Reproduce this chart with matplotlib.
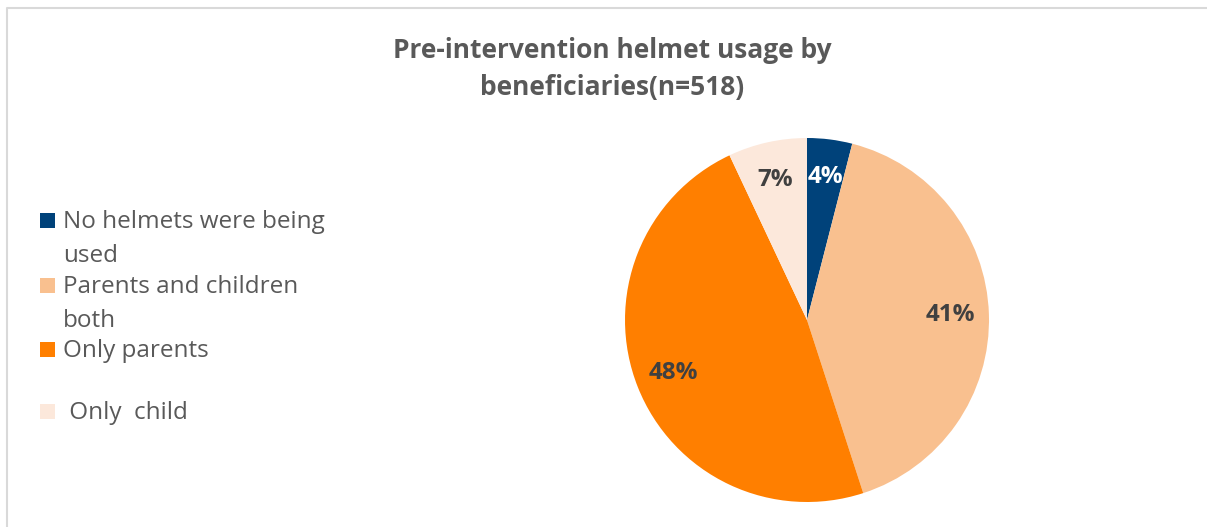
import matplotlib.pyplot as plt
from matplotlib.lines import Line2D
from matplotlib.patches import Rectangle

# data
categories = ["No helmets were being\nused", "Parents and children\nboth",
              "Only parents", " Only  child"]
shares = [4, 41, 48, 7]
colors = ["#00427A", "#F9C08F", "#FF7F00", "#FCE8DB"]
label_colors = ["white", "#404040", "#404040", "#404040"]

title = "Pre-intervention helmet usage by\nbeneficiaries(n=518)"

W, H = 1207, 527
fig = plt.figure(figsize=(W / 100, H / 100), dpi=100)
plt.rcParams["font.family"] = ["Open Sans", "DejaVu Sans"]

# light chart-area border (only top and left edges show)
fig.lines.append(Line2D([7 / W, 7 / W, 1.0], [0.0, 1 - 8 / H, 1 - 8 / H],
                        transform=fig.transFigure, color="#D9D9D9",
                        linewidth=1.5))

# pie
cx, cy, r = 807, 320, 182
ax = fig.add_axes([(cx - r) / W, (H - cy - r) / H, 2 * r / W, 2 * r / H])
wedges, texts, autotexts = ax.pie(shares, colors=colors, startangle=90,
                                  counterclock=False, autopct="%d%%",
                                  pctdistance=0.79, radius=1,
                                  wedgeprops=dict(linewidth=0))
for t, c in zip(autotexts, label_colors):
    t.set_color(c)
    t.set_fontsize(17.5)
    t.set_fontweight("bold")
ax.set_xlim(-1, 1)
ax.set_ylim(-1, 1)
ax.set_aspect("equal")
ax.axis("off")

fig.text(612 / W, 1 - 69 / H, title, ha="center", va="center",
         fontsize=19, fontweight="bold", color="#595959", linespacing=1.45)

# legend, drawn by hand to keep the uneven spacing of the original
legend_y = [220, 285, 349, 411]
for lab, col, y in zip(categories, colors, legend_y):
    fig.patches.append(Rectangle((40 / W, 1 - (y + 8) / H), 15 / W, 15 / H,
                                 transform=fig.transFigure, facecolor=col,
                                 edgecolor="none"))
    fig.text(63 / W, 1 - (y - 10) / H, lab, ha="left", va="top",
             fontsize=17.5, color="#595959", linespacing=1.55)

fig.savefig("out.png", dpi=100)
